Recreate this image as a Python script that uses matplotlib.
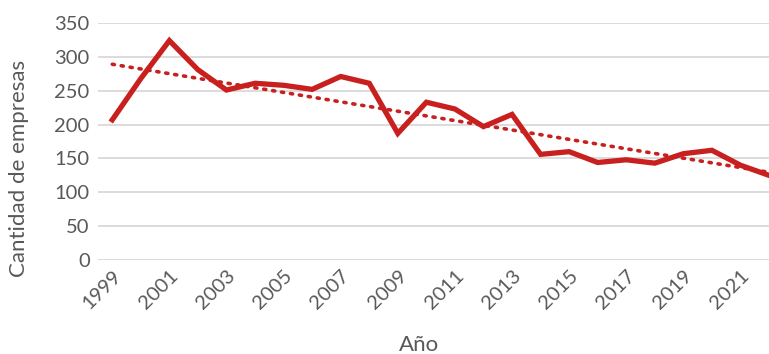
import numpy as np
import matplotlib
matplotlib.use("Agg")
import matplotlib.pyplot as plt

plt.rcParams['font.family'] = ['Lato', 'DejaVu Sans']

# number of companies per year
years = list(range(1999, 2023))
empresas = [207, 268, 324, 281, 251, 261, 258, 252, 271, 261, 187, 233,
            223, 197, 215, 156, 160, 144, 148, 143, 157, 162, 140, 125]
tick_years = list(range(1999, 2022, 2))

red = '#C8201E'
grey = '#595959'

fig = plt.figure(figsize=(7.69, 3.54), dpi=100)
ax = fig.add_axes([98 / 769, 1 - 260 / 354, 1 - 98 / 769, (260 - 23) / 354])

ax.plot(years, empresas, color=red, linewidth=3.8, solid_joinstyle='miter', zorder=3)

# linear trend
coef = np.polyfit(years, empresas, 1)
trend = np.polyval(coef, years)
ax.plot(years, trend, color=red, linewidth=2.6, linestyle=(0, (0.6, 1.9)),
        dash_capstyle='round', zorder=2)

ax.set_xlim(1998.5, 2022.0)
ax.set_ylim(0, 350)
ax.set_yticks(range(0, 351, 50))
ax.set_xticks(tick_years)
ax.set_xticklabels([str(y) for y in tick_years], rotation=45, ha='right',
                   rotation_mode='anchor', fontsize=14.5, color=grey)
ax.tick_params(axis='y', labelsize=14.5, labelcolor=grey, length=0, pad=6)
ax.tick_params(axis='x', length=0, pad=5)
ax.yaxis.grid(True, color='#D9D9D9', linewidth=1.3)
ax.set_axisbelow(True)
for s in ax.spines.values():
    s.set_visible(False)

fig.text(19 / 769, 1 - 168 / 354, 'Cantidad de empresas', rotation=90,
         ha='center', va='center', fontsize=16, color=grey)
fig.text(419 / 769, 1 - 345 / 354, 'Año', ha='center', va='center',
         fontsize=16, color=grey)

fig.savefig('out.png', dpi=100)
